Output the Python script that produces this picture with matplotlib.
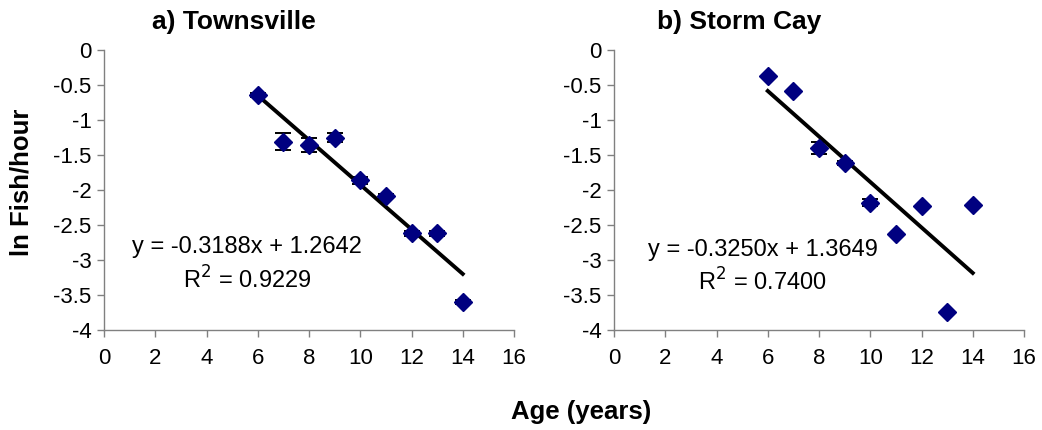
import numpy as np
import matplotlib
matplotlib.use("Agg")
import matplotlib.pyplot as plt

plt.rcParams['font.family'] = ['Liberation Sans', 'DejaVu Sans']

age = [6, 7, 8, 9, 10, 11, 12, 13, 14]

townsville_ln = [-0.64, -1.31, -1.35, -1.25, -1.86, -2.08, -2.62, -2.62, -3.60]
townsville_err = [0.03, 0.12, 0.10, 0.07, 0.05, 0.03, 0.03, 0.03, 0.03]
townsville_fit = (-0.3188, 1.2642)
townsville_r2 = 0.9229

stormcay_ln = [-0.37, -0.59, -1.40, -1.61, -2.18, -2.63, -2.23, -3.74, -2.22]
stormcay_err = [0.0, 0.0, 0.08, 0.03, 0.05, 0.0, 0.0, 0.0, 0.0]
stormcay_fit = (-0.3250, 1.3649)
stormcay_r2 = 0.7400

titles = ["a) Townsville", "b) Storm Cay"]
xticks = [0, 2, 4, 6, 8, 10, 12, 14, 16]
yticks = [0, -0.5, -1, -1.5, -2, -2.5, -3, -3.5, -4]
ytick_labels = ["0", "-0.5", "-1", "-1.5", "-2", "-2.5", "-3", "-3.5", "-4"]

W, H = 1042, 430
fig = plt.figure(figsize=(W / 100, H / 100), dpi=100)

def px_axes(l, r, t, b):
    return fig.add_axes([l / W, 1 - b / H, (r - l) / W, (b - t) / H])

panels = [
    (px_axes(104, 514, 50, 330), townsville_ln, townsville_err, townsville_fit, townsville_r2),
    (px_axes(614, 1024, 50, 330), stormcay_ln, stormcay_err, stormcay_fit, stormcay_r2),
]

eq_pos = [(0.349, 0.296, 0.179), (0.363, 0.286, 0.171)]

for i, (ax, yv, ev, fit, r2) in enumerate(panels):
    slope, intercept = fit
    xs = np.array([age[0], age[-1]])
    ax.plot(xs, slope * xs + intercept, color='black', lw=2.8, zorder=2)
    ax.errorbar(age, yv, yerr=ev, fmt='none', ecolor='black', elinewidth=1.4,
                capsize=6, capthick=1.4, zorder=3)
    ax.plot(age, yv, linestyle='none', marker='D', markersize=9.5,
            color='#000080', markeredgecolor='#000080', zorder=4)
    ax.set_xlim(0, 16)
    ax.set_ylim(-4, 0)
    ax.set_xticks(xticks)
    ax.set_yticks(yticks)
    ax.set_yticklabels(ytick_labels)
    for s in ['top', 'right']:
        ax.spines[s].set_visible(False)
    for s in ['left', 'bottom']:
        ax.spines[s].set_color('#808080')
        ax.spines[s].set_linewidth(1.0)
    ax.tick_params(axis='both', direction='out', length=5, width=1.0,
                   color='#808080', labelsize=16, labelcolor='black')
    ax.tick_params(axis='x', pad=8)
    ax.tick_params(axis='y', pad=4)
    ex, ey, ry = eq_pos[i]
    ax.text(ex, ey, "y = %.4fx + %.4f" % (slope, intercept),
            transform=ax.transAxes, fontsize=17, ha='center', va='center')
    ax.text(ex, ry, "R$^2$ = %.4f" % r2,
            transform=ax.transAxes, fontsize=17, ha='center', va='center')

fig.text(234 / W, 1 - 22 / H, titles[0], fontsize=19, fontweight='bold', ha='center', va='center')
fig.text(739 / W, 1 - 22 / H, titles[1], fontsize=19, fontweight='bold', ha='center', va='center')
fig.text(22 / W, 1 - 182 / H, "ln Fish/hour", fontsize=18.5, fontweight='bold',
         rotation=90, ha='center', va='center')
fig.text(581 / W, 1 - 412 / H, "Age (years)", fontsize=18.5, fontweight='bold',
         ha='center', va='center')

fig.savefig("out.png", dpi=100)
